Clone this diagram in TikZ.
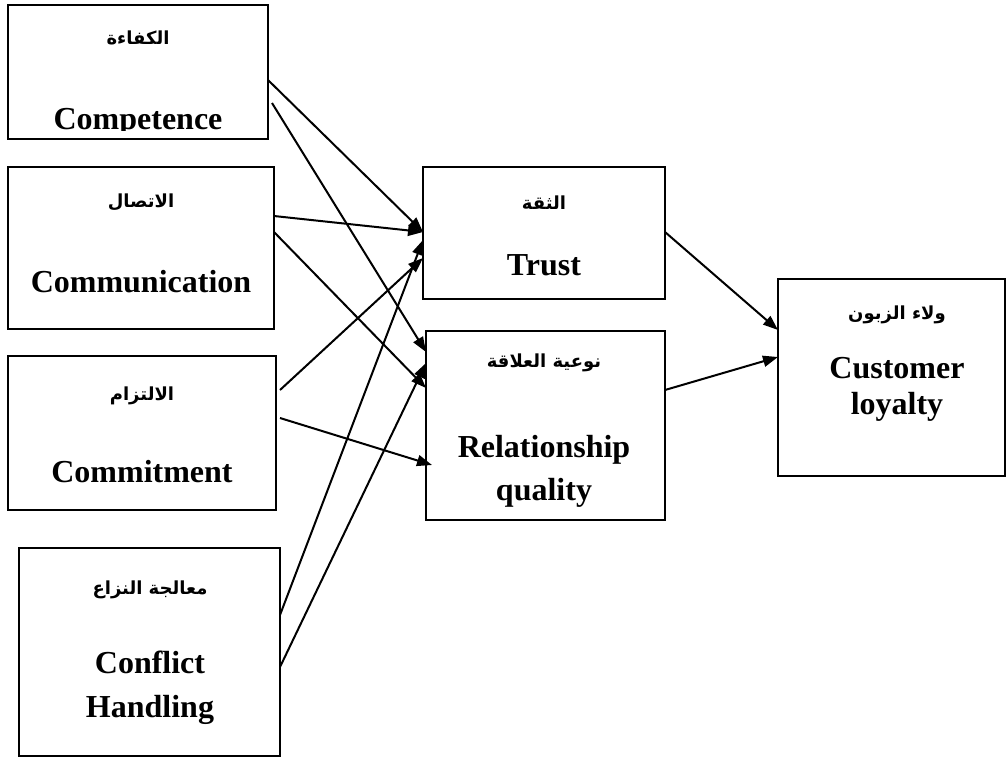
\documentclass[tikz,border=0pt]{standalone}
\usepackage{fontspec}
\setmainfont{Liberation Serif}
\newfontfamily\arabicfont[Script=Arabic]{DejaVu Sans}
\TeXXeTstate=1
\usetikzlibrary{arrows.meta,calc}

\tikzset{
  box/.style={draw=black, line width=1.8pt, rectangle, inner sep=0pt, outer sep=0pt, anchor=north west},
  en/.style={font=\bfseries\fontsize{32}{36}\selectfont, inner sep=0pt, anchor=base},
  ar/.style={font=\arabicfont\bfseries\fontsize{18}{22}\selectfont, inner sep=0pt, anchor=center},
  link/.style={line width=2pt, -{Triangle[length=15pt,width=11pt]}}
}

\begin{document}
\begin{tikzpicture}[x=1pt,y=-1pt]
  \useasboundingbox (0,0) rectangle (1007,758);

  % boxes
  \node[box, minimum width=260pt, minimum height=134pt] (comp)  at (8,5)     {};
  \node[box, minimum width=266pt, minimum height=162pt] (comm)  at (8,167)   {};
  \node[box, minimum width=268pt, minimum height=154pt] (cmt)   at (8,356)   {};
  \node[box, minimum width=261pt, minimum height=208pt] (conf)  at (19,548)  {};
  \node[box, minimum width=242pt, minimum height=132pt] (trust) at (423,167) {};
  \node[box, minimum width=239pt, minimum height=189pt] (rel)   at (426,331) {};
  \node[box, minimum width=227pt, minimum height=197pt] (loyal) at (778,279) {};

  % labels
  \node[ar] (compAr) at (138,38) {\beginR الكفاءة\endR};
  \begin{scope}
    \clip (8,5) rectangle (268,130);
    \node[en] (compEn) at (138,129) {Competence};
  \end{scope}

  \node[ar] (commAr) at (141,202) {\beginR الاتصال\endR};
  \node[en] (commEn) at (141,292) {Communication};

  \node[ar] (cmtAr) at (142,396) {\beginR الالتزام\endR};
  \node[en] (cmtEn) at (142,482) {Commitment};

  \node[ar] (confAr) at (150,590) {\beginR معالجة النزاع\endR};
  \node[en] (confEn1) at (150,673) {Conflict};
  \node[en] (confEn2) at (150,717) {Handling};

  \node[ar] (trustAr) at (544,203) {\beginR الثقة\endR};
  \node[en] (trustEn) at (544,275) {Trust};

  \node[ar] (relAr) at (544,363) {\beginR نوعية العلاقة\endR};
  \node[en] (relEn1) at (544,457) {Relationship};
  \node[en] (relEn2) at (544,500) {quality};

  \node[ar] (loyalAr) at (897,315) {\beginR ولاء الزبون\endR};
  \node[en] (loyalEn1) at (897,378) {Customer};
  \node[en] (loyalEn2) at (897,414) {loyalty};

  % paths from the four drivers
  \draw[link] (comp.east |- 0,80)  -- (trust.west |- 0,232);
  \draw[link] ($(comp.east |- 0,103)+(4,0)$) -- (rel.west |- 0,352);
  \draw[link] (comm.east |- 0,216) -- (trust.west |- 0,232);
  \draw[link] (comm.east |- 0,232) -- (rel.west |- 0,388);
  \draw[link] ($(cmt.east |- 0,390)+(4,0)$) -- (trust.west |- 0,258);
  \draw[link] ($(cmt.east |- 0,418)+(4,0)$) -- ($(rel.west |- 0,465)+(6,0)$);
  \draw[link] (conf.east |- 0,615) -- (trust.west |- 0,240);
  \draw[link] (conf.east |- 0,667) -- (rel.west |- 0,363);

  % paths to loyalty
  \draw[link] (trust.east |- 0,232) -- (loyal.west |- 0,330);
  \draw[link] (rel.east |- 0,390)   -- (loyal.west |- 0,357);
\end{tikzpicture}
\end{document}
